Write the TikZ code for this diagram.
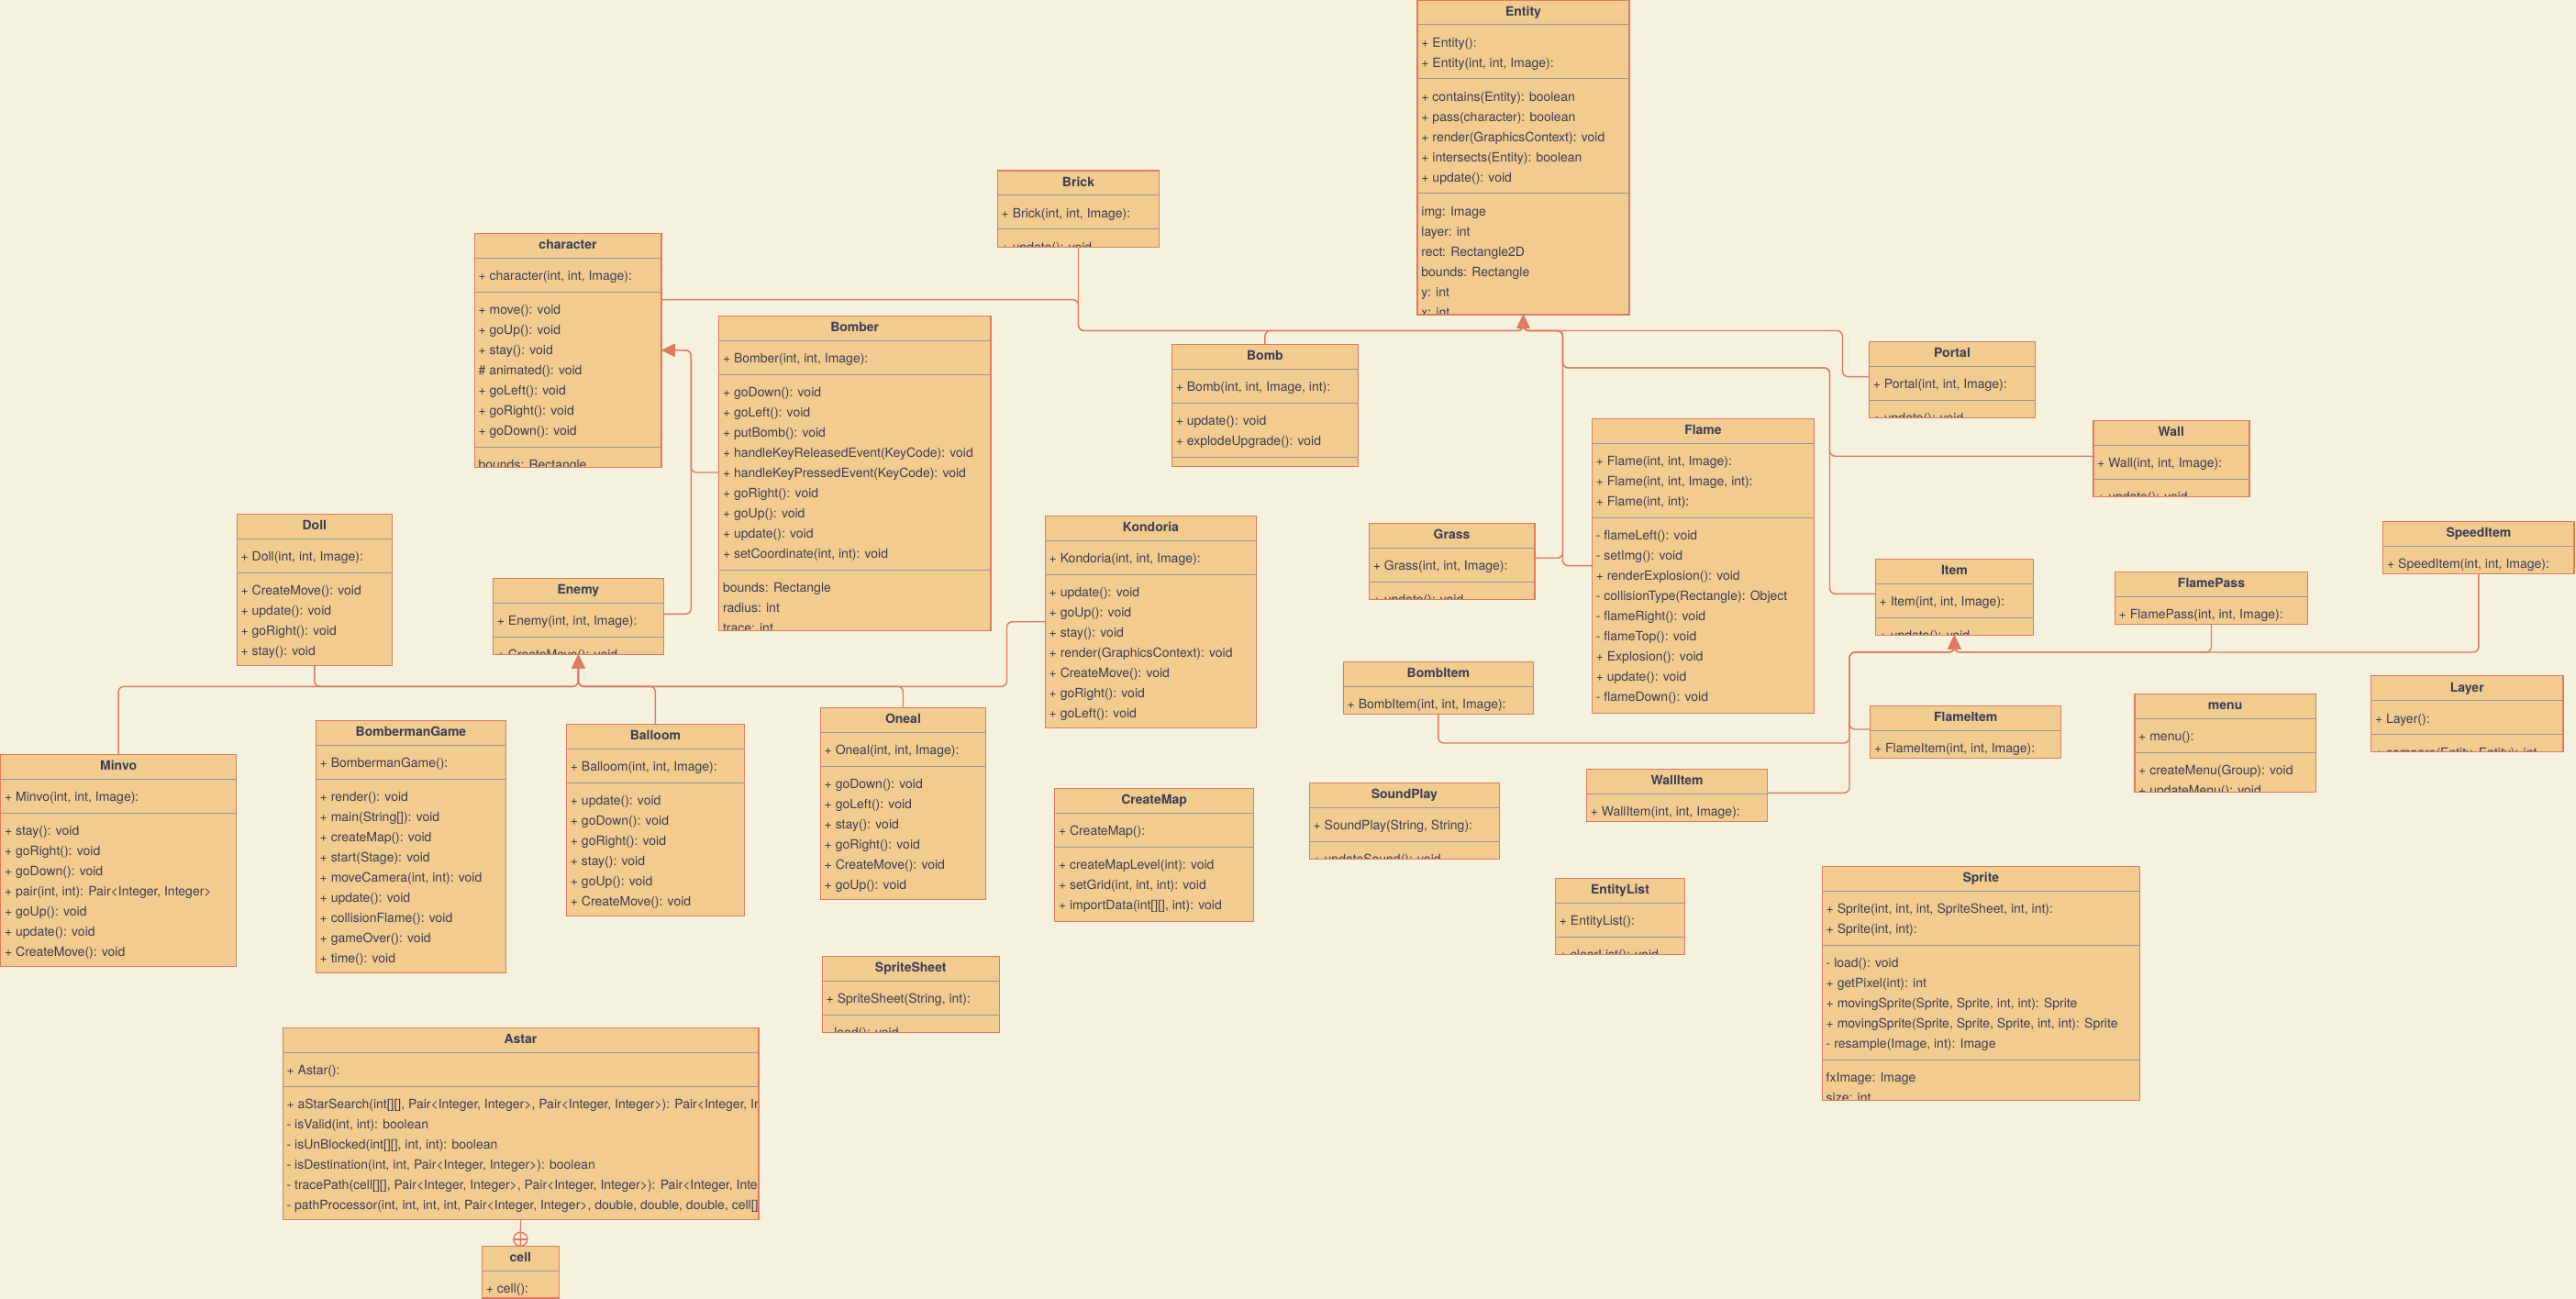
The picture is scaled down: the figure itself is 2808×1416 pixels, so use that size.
\documentclass[tikz,border=0pt]{standalone}
\usepackage{fontspec}
\setmainfont{TeX Gyre Heros}
\usetikzlibrary{arrows.meta,calc}
\definecolor{bg}{HTML}{F4F1DE}
\definecolor{boxfill}{HTML}{F2CC8F}
\definecolor{boxline}{HTML}{E07A5F}
\definecolor{txt}{HTML}{393C56}
\definecolor{divc}{HTML}{9195A5}
\tikzset{
 classbox/.style={draw=boxline, fill=boxfill, line width=0.7pt, anchor=north west, inner sep=0pt, outer sep=0pt},
 classborder/.style={draw=boxline, line width=0.7pt},
 classtitle/.style={anchor=base, font=\fontsize{7}{8}\selectfont\bfseries, text=txt, inner sep=0pt},
 rowtext/.style={anchor=base west, font=\fontsize{7}{8}\selectfont, text=txt, inner sep=0pt},
 divider/.style={draw=divc, line width=0.5pt},
 inh/.style={draw=boxline, line width=0.7pt, rounded corners=3pt, -{Triangle[length=7.5pt,width=7pt]}},
 edgeline/.style={draw=boxline, line width=0.7pt},
}
\newcounter{rowc}
\newcommand\classbox[6]{%
  \node[classbox, minimum width=#4*0.5pt, minimum height=#5*0.5pt] (#1) at (#2,#3) {};
  \node[classtitle] (#1-title) at (#2+#4/2,#3+17.5) {#6};
  \draw[divider] (#2+0.7,#3+27) -- (#2+#4-0.7,#3+27);
  \begin{scope}
  \clip (#1.south west) rectangle (#1.north east);
  \xdef\cx{#2}\xdef\cw{#4}\xdef\cname{#1}%
  \pgfmathsetmacro\tmp{#3+27+18.5}\xdef\cy{\tmp}%
  \setcounter{rowc}{0}%
}
\newcommand\crow[1]{%
  \stepcounter{rowc}%
  \node[rowtext] (\cname-r\arabic{rowc}) at (\cx+4,\cy+5.8) {#1};
  \pgfmathsetmacro\tmp{\cy+22}\xdef\cy{\tmp}%
}
\newcommand\csep{%
  \pgfmathsetmacro\tmp{\cy-3.5}%
  \draw[divider] (\cx+0.7,\tmp) -- (\cx+\cw-0.7,\tmp);
  \pgfmathsetmacro\tmp{\cy+15}\xdef\cy{\tmp}%
}
\newcommand\cend{\end{scope}\draw[classborder] (\cname.south west) rectangle (\cname.north east);}
\begin{document}
\begin{tikzpicture}[x=0.5pt,y=-0.5pt]
\useasboundingbox (0,0) rectangle (2808,1416);
\fill[bg] (0,0) rectangle (2808,1416);

% ---------- classes ----------
\classbox{Entity}{1545}{0}{231}{343}{Entity}
\crow{+ Entity():}\crow{+ Entity(int, int, Image):}\csep
\crow{+ contains(Entity): boolean}\crow{+ pass(character): boolean}\crow{+ render(GraphicsContext): void}\crow{+ intersects(Entity): boolean}\crow{+ update(): void}\csep
\crow{img: Image}\crow{layer: int}\crow{rect: Rectangle2D}\crow{bounds: Rectangle}\crow{y: int}\crow{x: int}\cend

\classbox{Brick}{1087.3}{186}{176.4}{83.3}{Brick}
\crow{+ Brick(int, int, Image):}\csep\crow{+ update(): void}\cend

\classbox{character}{517.2}{254.3}{203.6}{255}{character}
\crow{+ character(int, int, Image):}\csep
\crow{+ move(): void}\crow{+ goUp(): void}\crow{+ stay(): void}\crow{\# animated(): void}\crow{+ goLeft(): void}\crow{+ goRight(): void}\crow{+ goDown(): void}\csep
\crow{bounds: Rectangle}\cend

\classbox{Bomber}{783.6}{344.3}{296.2}{343}{Bomber}
\crow{+ Bomber(int, int, Image):}\csep
\crow{+ goDown(): void}\crow{+ goLeft(): void}\crow{+ putBomb(): void}\crow{+ handleKeyReleasedEvent(KeyCode): void}\crow{+ handleKeyPressedEvent(KeyCode): void}\crow{+ goRight(): void}\crow{+ goUp(): void}\crow{+ update(): void}\crow{+ setCoordinate(int, int): void}\csep
\crow{bounds: Rectangle}\crow{radius: int}\crow{trace: int}\cend

\classbox{Bomb}{1277.4}{375.3}{203}{133}{Bomb}
\crow{+ Bomb(int, int, Image, int):}\csep
\crow{+ update(): void}\crow{+ explodeUpgrade(): void}\csep\cend

\classbox{Portal}{2037.4}{372.3}{181.1}{83}{Portal}
\crow{+ Portal(int, int, Image):}\csep\crow{+ update(): void}\cend

\classbox{Wall}{2281.8}{458.3}{170}{83}{Wall}
\crow{+ Wall(int, int, Image):}\csep\crow{+ update(): void}\cend

\classbox{Flame}{1735.4}{456.3}{242.1}{321}{Flame}
\crow{+ Flame(int, int, Image):}\crow{+ Flame(int, int, Image, int):}\crow{+ Flame(int, int):}\csep
\crow{- flameLeft(): void}\crow{- setImg(): void}\crow{+ renderExplosion(): void}\crow{- collisionType(Rectangle): Object}\crow{- flameRight(): void}\crow{- flameTop(): void}\crow{+ Explosion(): void}\crow{+ update(): void}\crow{- flameDown(): void}\cend

\classbox{Grass}{1492.4}{570.3}{180.4}{83.4}{Grass}
\crow{+ Grass(int, int, Image):}\csep\crow{+ update(): void}\cend

\classbox{Item}{2044.3}{609.3}{172.1}{83}{Item}
\crow{+ Item(int, int, Image):}\csep\crow{+ update(): void}\cend

\classbox{FlamePass}{2305.3}{623.3}{210.3}{57}{FlamePass}
\crow{+ FlamePass(int, int, Image):}\cend

\classbox{SpeedItem}{2597.7}{568.3}{208.3}{57}{SpeedItem}
\crow{+ SpeedItem(int, int, Image):}\cend

\classbox{Layer}{2584.6}{736.7}{209.2}{82.6}{Layer}
\crow{+ Layer():}\csep\crow{+ compare(Entity, Entity): int}\cend

\classbox{menu}{2326.8}{756.3}{197.6}{107}{menu}
\crow{+ menu():}\csep\crow{+ createMenu(Group): void}\crow{+ updateMenu(): void}\cend

\classbox{FlameItem}{2038.6}{769.3}{208.1}{57}{FlameItem}
\crow{+ FlameItem(int, int, Image):}\cend

\classbox{WallItem}{1729.4}{838.3}{197.3}{57}{WallItem}
\crow{+ WallItem(int, int, Image):}\cend

\classbox{BombItem}{1464.3}{721.3}{207.1}{57}{BombItem}
\crow{+ BombItem(int, int, Image):}\cend

\classbox{EntityList}{1695.5}{957.3}{141}{83}{EntityList}
\crow{+ EntityList():}\csep\crow{+ clearList(): void}\cend

\classbox{Sprite}{1986.3}{944.3}{346.1}{255}{Sprite}
\crow{+ Sprite(int, int, int, SpriteSheet, int, int):}\crow{+ Sprite(int, int):}\csep
\crow{- load(): void}\crow{+ getPixel(int): int}\crow{+ movingSprite(Sprite, Sprite, int, int): Sprite}\crow{+ movingSprite(Sprite, Sprite, Sprite, int, int): Sprite}\crow{- resample(Image, int): Image}\csep
\crow{fxImage: Image}\crow{size: int}\cend

\classbox{SoundPlay}{1427.2}{853.3}{207.2}{83}{SoundPlay}
\crow{+ SoundPlay(String, String):}\csep\crow{+ updateSound(): void}\cend

\classbox{CreateMap}{1149.6}{859.3}{216.9}{145}{CreateMap}
\crow{+ CreateMap():}\csep
\crow{+ createMapLevel(int): void}\crow{+ setGrid(int, int, int): void}\crow{+ importData(int[][], int): void}\cend

\classbox{SpriteSheet}{896.3}{1042.3}{193}{83}{SpriteSheet}
\crow{+ SpriteSheet(String, int):}\csep\crow{- load(): void}\cend

\classbox{Kondoria}{1139.3}{562.3}{230.3}{231}{Kondoria}
\crow{+ Kondoria(int, int, Image):}\csep
\crow{+ update(): void}\crow{+ goUp(): void}\crow{+ stay(): void}\crow{+ render(GraphicsContext): void}\crow{+ CreateMove(): void}\crow{+ goRight(): void}\crow{+ goLeft(): void}\cend

\classbox{Oneal}{894.3}{771.3}{180.3}{209}{Oneal}
\crow{+ Oneal(int, int, Image):}\csep
\crow{+ goDown(): void}\crow{+ goLeft(): void}\crow{+ stay(): void}\crow{+ goRight(): void}\crow{+ CreateMove(): void}\crow{+ goUp(): void}\cend

\classbox{Balloom}{617.5}{789.3}{193.8}{209}{Balloom}
\crow{+ Balloom(int, int, Image):}\csep
\crow{+ update(): void}\crow{+ goDown(): void}\crow{+ goRight(): void}\crow{+ stay(): void}\crow{+ goUp(): void}\crow{+ CreateMove(): void}\cend

\classbox{Enemy}{537.5}{630.3}{185.8}{83}{Enemy}
\crow{+ Enemy(int, int, Image):}\csep\crow{+ CreateMove(): void}\cend

\classbox{Doll}{258.2}{560.3}{169.3}{165}{Doll}
\crow{+ Doll(int, int, Image):}\csep
\crow{+ CreateMove(): void}\crow{+ update(): void}\crow{+ goRight(): void}\crow{+ stay(): void}\cend

\classbox{Minvo}{0.7}{822.3}{256.8}{231}{Minvo}
\crow{+ Minvo(int, int, Image):}\csep
\crow{+ stay(): void}\crow{+ goRight(): void}\crow{+ goDown(): void}\crow{+ pair(int, int): Pair<Integer, Integer>}\crow{+ goUp(): void}\crow{+ update(): void}\crow{+ CreateMove(): void}\cend

\classbox{BombermanGame}{344.3}{785.3}{207.3}{275}{BombermanGame}
\crow{+ BombermanGame():}\csep
\crow{+ render(): void}\crow{+ main(String[]): void}\crow{+ createMap(): void}\crow{+ start(Stage): void}\crow{+ moveCamera(int, int): void}\crow{+ update(): void}\crow{+ collisionFlame(): void}\crow{+ gameOver(): void}\crow{+ time(): void}\cend

\classbox{Astar}{308.2}{1120.3}{518.6}{209}{Astar}
\crow{+ Astar():}\csep
\crow{+ aStarSearch(int[][], Pair<Integer, Integer>, Pair<Integer, Integer>): Pair<Integer, Integer>}
\crow{- isValid(int, int): boolean}
\crow{- isUnBlocked(int[][], int, int): boolean}
\crow{- isDestination(int, int, Pair<Integer, Integer>): boolean}
\crow{- tracePath(cell[][], Pair<Integer, Integer>, Pair<Integer, Integer>): Pair<Integer, Integer>}
\crow{- pathProcessor(int, int, int, int, Pair<Integer, Integer>, double, double, double, cell[][])}\cend

\classbox{cell}{525.4}{1358.3}{83.9}{56.7}{cell}
\crow{+ cell():}\cend

% ---------- routing points ----------
\coordinate (eY) at (0,360.5);
\coordinate (eY2) at (0,401);
\coordinate (eX1) at (1703.5,0);
\coordinate (eX2) at (2008.5,0);
\coordinate (eX3) at (1994.5,0);
\coordinate (chX) at (753.3,0);
\coordinate (enY) at (0,748.3);
\coordinate (koX) at (1097.5,0);
\coordinate (itY) at (0,711);
\coordinate (itX) at (2016,0);
\coordinate (biY) at (0,810);

% ---------- inheritance to Entity ----------
\draw[inh] (Brick.south) |- (Entity.south |- eY) -- (Entity.south);
\draw[inh] ($(character.north east)+(0,72.4)$) -| (Brick.south |- eY) -| (Entity.south);
\draw[inh] (Bomb.north) |- (Entity.south |- eY) -- (Entity.south);
\draw[inh] ($(Portal.north west)+(0,38.4)$) -| (eX2 |- eY) -| (Entity.south);
\draw[inh] ($(Wall.north west)+(0,39)$) -| (eX3 |- eY2) -| (eX1 |- eY) -| (Entity.south);
\draw[inh] ($(Item.north west)+(0,38)$) -| (eX3 |- eY2) -| (eX1 |- eY) -| (Entity.south);
\draw[inh] ($(Grass.north east)+(0,38)$) -| (eX1 |- eY) -| (Entity.south);
\draw[inh] ($(Flame.north west)+(0,160.4)$) -| (eX1 |- eY) -| (Entity.south);

% ---------- inheritance to character ----------
\draw[inh] ($(Bomber.north west)+(0,170.7)$) -| (chX |- character.east) -- (character.east);
\draw[inh] ($(Enemy.north east)+(0,39)$) -| (chX |- character.east) -- (character.east);

% ---------- inheritance to Enemy ----------
\draw[inh] (Doll.south) |- (Enemy.south |- enY) -- (Enemy.south);
\draw[inh] (Minvo.north) |- (Enemy.south |- enY) -- (Enemy.south);
\draw[inh] (Balloom.north) |- (Enemy.south |- enY) -- (Enemy.south);
\draw[inh] (Oneal.north) |- (Enemy.south |- enY) -- (Enemy.south);
\draw[inh] ($(Kondoria.north west)+(0,115.4)$) -| (koX |- enY) -| (Enemy.south);

% ---------- inheritance to Item ----------
\draw[inh] (FlamePass.south) |- (Item.south |- itY) -- (Item.south);
\draw[inh] (SpeedItem.south) |- (Item.south |- itY) -- (Item.south);
\draw[inh] ($(FlameItem.north west)+(0,25.7)$) -| (itX |- itY) -| (Item.south);
\draw[inh] (BombItem.south) |- (itX |- biY) |- (Item.south |- itY) -- (Item.south);
\draw[inh] ($(WallItem.north east)+(0,26)$) -| (itX |- itY) -| (Item.south);

% ---------- Astar contains cell ----------
\draw[edgeline] (Astar.south) -- (cell.north);
\coordinate (cellc) at ($(cell.north)+(0,-7.5)$);
\draw[edgeline] (cellc) circle[radius=7.5];
\draw[edgeline] ($(cellc)+(-7.5,0)$) -- ($(cellc)+(7.5,0)$);
\end{tikzpicture}
\end{document}
